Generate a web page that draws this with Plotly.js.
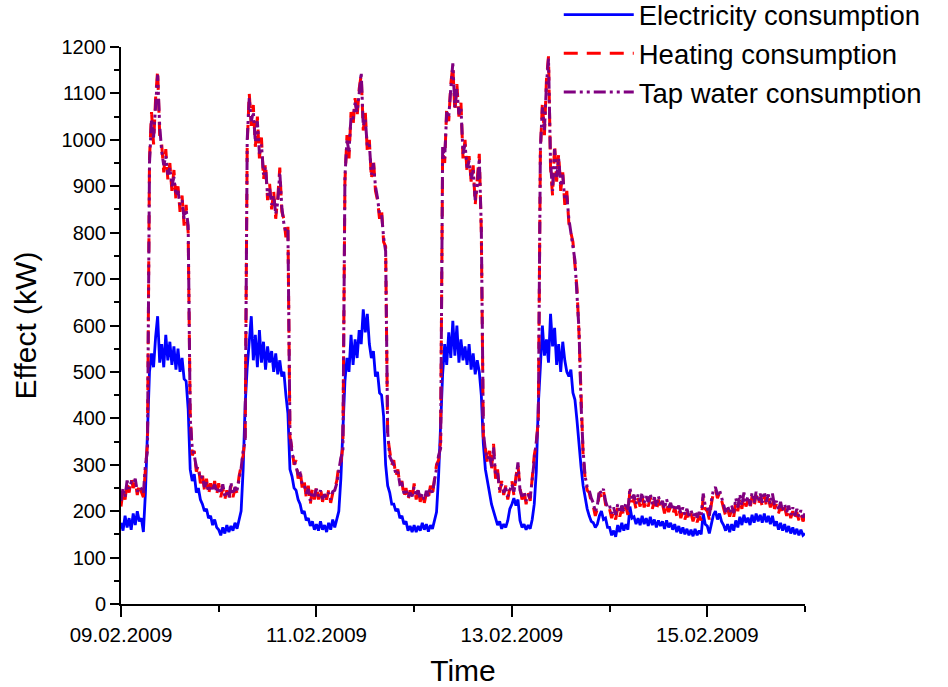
<!DOCTYPE html>
<html>
<head>
<meta charset="utf-8">
<script src="https://cdn.plot.ly/plotly-3.0.1.min.js"></script>
<style>html,body{margin:0;padding:0;background:#fff;}#chart{width:948px;height:687px;}</style>
</head>
<body>
<div id="chart"></div>
<script>
// Half-hourly readings, 09.02.2009 00:00 to 16.02.2009 00:00 (one row per day, 48 values; final value closes the range)
const startDate = "2009-02-09T00:00:00Z";
const stepMinutes = 30;
const xTickLabelsFormat = "%d.%m.%Y";

const electricity = [
  175,158,190,165,185,160,195,170,200,178,185,155, 240,380, 500,540,510,575,620,520, 560,510,580,525,565,515, 555,505,550,500,530,485, 480,420, 290,265,280,240,250,225, 215,200,205,185,190,170, 182,165,
  160,148,165,152,170,155,168,158,175,162,180,200, 290,430, 510,560,620,525,580,510, 590,520,565,505,555,520, 545,500,540,495,525,490, 500,450, 410,290,275,250,245,225, 215,195,200,180,185,168, 178,160,
  172,158,178,160,170,155,175,160,182,165,185,200, 270,390, 480,530,500,580,515,570, 530,590,560,635,585,625, 560,530,545,490,500,455, 450,405, 300,255,240,215,215,200, 205,185,190,172,178,158, 168,155,
  170,155,168,158,175,160,172,156,170,162,178,198, 275,405, 495,560,515,585,530,610, 535,600,520,570,525,555, 515,560,505,540,495,525, 500,450, 345,290,268,240,215,200, 188,170,178,162,172,165, 180,205,
  215,228,212,225,180,165,172,160,170,162,182,215, 285,430, 510,600,535,570,520,625, 555,595,515,560,500,565, 525,500,490,505,455,440, 395,340, 295,255,225,205,190,178, 175,165,172,190,200,182, 185,165,
  165,148,158,145,170,155,175,158,172,160,210,185, 188,172, 185,170,190,172,185,168, 188,170,182,165,180,168, 178,162,180,165,175,160, 172,155, 168,152,165,150,162,148, 160,146,162,148,158,150, 195,172,
  168,152,172,192,200,182,195,178,170,158,172,155, 172,158, 180,165,188,170,192,175, 186,170,192,175,195,178, 192,175,195,176,190,172, 190,168, 178,160,175,158,172,155, 168,152,165,150,162,148, 160,148,
  152
];

const heating = [
  210,245,225,262,240,270,250,265,235,258,242,230, 290,345, 960,1060,990,1090,1150,1010, 990,930,980,915,950,890, 935,870,900,845,880,815, 860,800, 410,320,330,285,300,260, 280,245,270,235,260,240, 265,235,
  260,230,250,225,245,222,255,230,248,240,275,300, 320,360, 990,1100,1030,1075,985,1050, 960,1005,915,950,870,905, 850,890,830,875,940,845, 830,790, 815,360,335,300,310,270, 290,250,265,230,255,215, 248,225,
  255,225,250,220,240,225,245,218,238,250,265,300, 305,340, 910,1010,960,1060,1030,1090, 1050,1110,1140,1020,1060,975, 1000,915,960,890,870,830, 850,780, 770,360,325,300,310,275, 290,255,265,230,250,222, 245,225,
  260,225,250,220,242,218,238,228,255,235,270,300, 310,350, 975,950,1070,1040,1120,1160, 1060,1120,1050,1080,960,1000, 930,965,910,945,860,910, 970,800, 360,335,305,330,290,345, 270,290,240,265,235,255, 225,250,
  265,235,275,300,250,225,245,215,240,222,265,320, 345,400, 970,1080,1010,1130,1180,940, 880,990,910,970,890,930, 860,890,820,800,780,730, 680,580, 440,320,270,245,240,220, 210,190,205,240,230,245, 215,200,
  205,185,200,182,208,188,205,190,210,192,245,220, 225,205, 228,210,232,208,225,210, 230,205,222,200,225,205, 215,195,218,198,210,192, 208,190, 205,185,200,182,198,180, 195,178,192,176,190,180, 230,205,
  200,182,215,240,248,228,240,222,210,190,205,188, 205,188, 220,200,228,205,232,210, 225,205,232,210,235,212, 230,210,235,212,228,208, 230,205, 215,195,212,192,208,190, 205,185,200,182,198,180, 195,178,
  188
];

const tapWater = [
  222,250,230,266,248,262,258,270,242,252,248,238, 300,330, 950,1045,1005,1080,1140,1030, 975,945,965,925,940,900, 920,880,890,860,870,830, 850,815, 400,335,320,295,290,270, 275,252,262,242,255,248, 258,240,
  252,238,258,232,240,228,262,236,252,245,268,292, 330,350, 1000,1090,1040,1060,995,1040, 970,990,925,940,880,895, 860,880,840,865,930,855, 820,800, 805,370,325,310,300,280, 282,258,258,238,248,222, 242,232,
  248,232,245,226,236,230,240,225,242,245,260,290, 315,330, 920,1000,975,1050,1045,1080, 1060,1100,1145,1030,1045,985, 990,925,950,900,875,840, 840,790, 760,370,318,308,300,280, 285,258,260,238,245,230, 240,232,
  252,232,245,226,238,224,244,232,250,240,262,292, 320,335, 985,960,1060,1050,1110,1165, 1070,1110,1055,1070,970,990, 940,955,915,935,870,900, 960,810, 370,330,312,322,296,338, 276,282,246,258,240,250, 232,246,
  258,242,268,305,245,232,240,222,236,228,270,312, 355,390, 980,1070,1020,1120,1175,950, 890,980,920,960,900,925, 870,880,830,795,770,740, 670,590, 430,330,275,252,245,228, 218,198,212,246,238,248, 222,208,
  212,195,208,192,215,196,212,200,218,200,250,228, 235,215, 236,220,240,218,232,220, 238,215,230,210,232,215, 222,205,226,208,218,202, 215,200, 212,195,208,192,205,190, 202,188,200,186,198,190, 238,212,
  208,190,222,246,252,235,246,230,218,198,212,196, 212,196, 228,208,236,212,240,218, 232,212,240,218,242,220, 238,218,242,220,236,215, 238,212, 222,202,220,200,215,198, 212,192,208,190,205,188, 202,186,
  195
];

const seriesNames = ["Electricity consumption", "Heating consumption", "Tap water consumption"];

// regular half-hour time grid
const t0 = Date.parse(startDate);
function stamp(i) {
  const d = new Date(t0 + i * stepMinutes * 60000);
  const p = n => String(n).padStart(2, "0");
  return d.getUTCFullYear() + "-" + p(d.getUTCMonth() + 1) + "-" + p(d.getUTCDate()) + " " + p(d.getUTCHours()) + ":" + p(d.getUTCMinutes());
}
const times = electricity.map((_, i) => stamp(i));

const FONT = "Arial, 'Liberation Sans', Helvetica, sans-serif";

const traces = [
  {x: times, y: electricity, name: seriesNames[0], type: "scatter", mode: "lines",
   line: {color: "#0000ff", width: 2.8}},
  {x: times, y: heating, name: seriesNames[1], type: "scatter", mode: "lines",
   line: {color: "#ff0000", width: 3, dash: "14px,9px"}},
  {x: times, y: tapWater, name: seriesNames[2], type: "scatter", mode: "lines",
   line: {color: "#800080", width: 3, dash: "12px,4px,3px,4px,3px,4px"}}
];

const layout = {
  width: 948, height: 687,
  margin: {l: 121, r: 143, t: 47, b: 83, pad: 0, autoexpand: false},
  paper_bgcolor: "#ffffff", plot_bgcolor: "#ffffff",
  font: {family: FONT, color: "#000000"},
  showlegend: true,
  legend: {
    x: 0.64, xanchor: "left", y: 1.102, yanchor: "top",
    font: {family: FONT, size: 27.5, color: "#000000"},
    bgcolor: "rgba(0,0,0,0)", borderwidth: 0, itemwidth: 70, tracegroupgap: 0
  },
  xaxis: {
    type: "date",
    range: ["2009-02-09 00:00", "2009-02-16 00:00"],
    tick0: "2009-02-09", dtick: 2 * 86400000,
    tickformat: xTickLabelsFormat,
    ticks: "outside", ticklen: 11, tickwidth: 2, tickcolor: "#000",
    showline: true, linewidth: 2, linecolor: "#000",
    showgrid: false, zeroline: false, mirror: false,
    tickfont: {family: FONT, size: 20.5, color: "#000"},
    minor: {dtick: 86400000, tick0: "2009-02-09", ticks: "outside", ticklen: 6, tickwidth: 2, tickcolor: "#000", showgrid: false},
    title: {text: "Time", font: {family: FONT, size: 30, color: "#000"}, standoff: 17}
  },
  yaxis: {
    range: [0, 1200], dtick: 100, tick0: 0,
    ticks: "outside", ticklen: 9, tickwidth: 2, tickcolor: "#000",
    showline: true, linewidth: 2, linecolor: "#000",
    showgrid: false, zeroline: false,
    tickfont: {family: FONT, size: 20, color: "#000"},
    minor: {dtick: 50, ticks: "outside", ticklen: 5, tickwidth: 2, tickcolor: "#000", showgrid: false},
    title: {text: "Effect (kW)", font: {family: FONT, size: 30, color: "#000"}, standoff: 16}
  }
};

Plotly.newPlot("chart", traces, layout, {displayModeBar: false, staticPlot: true});
</script>
</body>
</html>
